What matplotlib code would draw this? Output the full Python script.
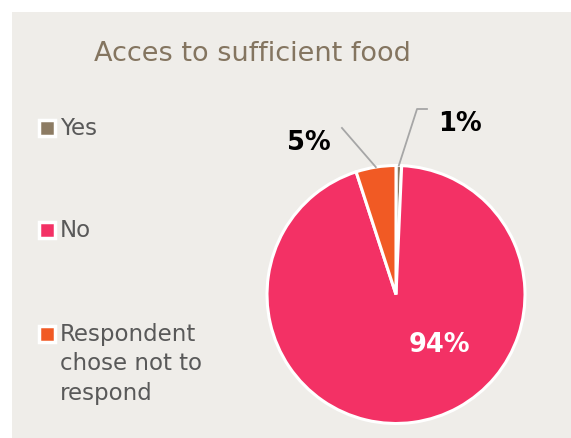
import matplotlib
matplotlib.use("Agg")
import matplotlib.pyplot as plt
from matplotlib.patches import Rectangle
import numpy as np

categories = ["Yes", "No", "Respondent\nchose not to\nrespond"]
shares = [0.7, 94.3, 5.0]
colors = ["#8C7B63", "#F33165", "#F15A24"]

W, H = 571, 439
fig = plt.figure(figsize=(W / 100, H / 100), dpi=100)
fig.patch.set_facecolor("white")
fig.patches.append(Rectangle((12 / W, 0), 1, (H - 13) / H, transform=fig.transFigure,
                             facecolor="#EFEDE9", edgecolor="none", zorder=-1))

fig.text(252 / W, 1 - 54 / H, "Acces to sufficient food", ha="center", va="center",
         fontsize=19.5, color="#847560")

# legend, drawn by hand to keep Excel's wide spacing
leg_y = [129, 231, 335]
for name, col, y in zip(categories, colors, leg_y):
    fig.patches.append(Rectangle((39 / W, 1 - (y + 8) / H), 16 / W, 16 / H,
                                 transform=fig.transFigure, facecolor=col,
                                 edgecolor="white", linewidth=2.5))
    fig.text(60 / W, 1 - (y - 12) / H, name, ha="left", va="top", fontsize=16.5,
             color="#595959", linespacing=1.36)

cx, cy, r = 396, 295.5, 129
ax = fig.add_axes([(cx - r) / W, (H - cy - r) / H, 2 * r / W, 2 * r / H])
ax.set_facecolor("none")
wedges, _ = ax.pie(shares, colors=colors, startangle=90, counterclock=False,
                   radius=1, wedgeprops=dict(edgecolor="white", linewidth=2.2))
ax.set_xlim(-1, 1)
ax.set_ylim(-1, 1)
ax.set_aspect("equal")
ax.axis("off")

labels = [f"{round(v):.0f}%" for v in shares]
label_pos = [(0.496, 1.329), (0.333, -0.384), (-0.674, 1.186)]
label_col = ["black", "white", "black"]
for lab, (lx, ly), c in zip(labels, label_pos, label_col):
    ax.text(lx, ly, lab, ha="center", va="center", fontsize=18.5, fontweight="bold",
            color=c, clip_on=False)

# leader lines for the two small slices
def mid_point(w):
    ang = np.deg2rad((w.theta1 + w.theta2) / 2)
    return np.cos(ang), np.sin(ang)

x0, y0 = mid_point(wedges[0])
ax.plot([0.24, 0.163, x0], [1.438, 1.438, y0], color="#A6A6A6", lw=1.3, clip_on=False)
x2, y2 = mid_point(wedges[2])
ax.plot([-0.419, x2], [1.291, y2], color="#A6A6A6", lw=1.3, clip_on=False)

fig.savefig("out.png", dpi=100, facecolor=fig.get_facecolor())
